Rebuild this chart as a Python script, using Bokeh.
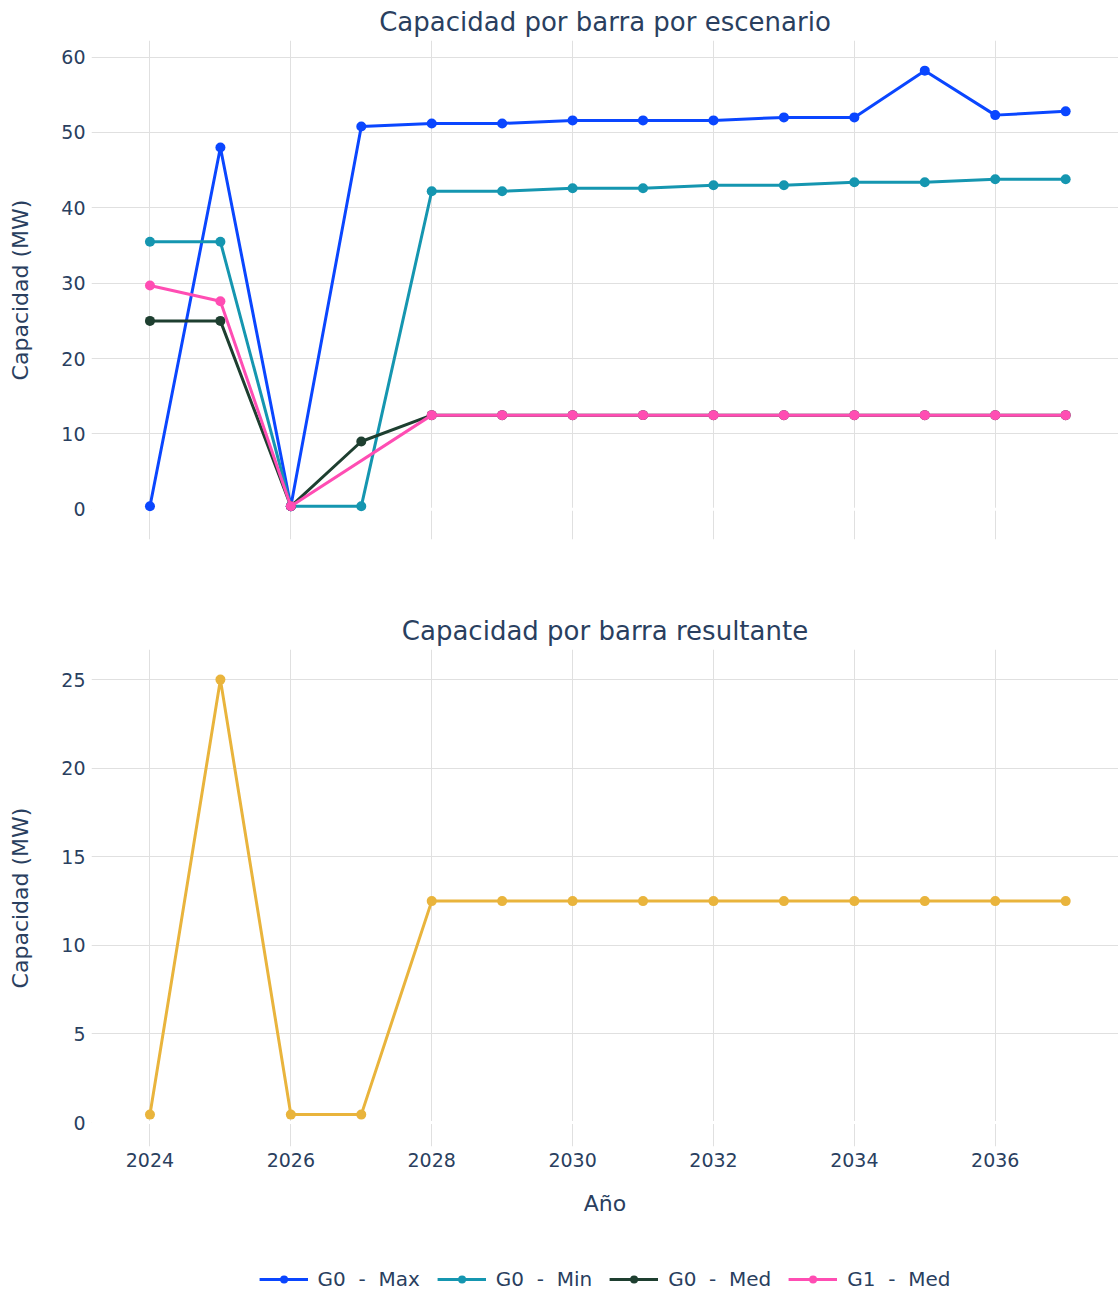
from bokeh.plotting import figure
from bokeh.layouts import column
from bokeh.models import Range1d, FixedTicker, Span, Legend, LegendItem
from bokeh.embed import file_html
from bokeh.resources import INLINE

# ---------------- data ----------------
years = [2024, 2025, 2026, 2027, 2028, 2029, 2030, 2031, 2032, 2033, 2034, 2035, 2036, 2037]
g0_max = [0.4, 48.0, 0.4, 50.8, 51.2, 51.2, 51.6, 51.6, 51.6, 52.0, 52.0, 58.2, 52.3, 52.8]
g0_min = [35.5, 35.5, 0.4, 0.4, 42.2, 42.2, 42.6, 42.6, 43.0, 43.0, 43.4, 43.4, 43.8, 43.8]
g0_med = [25.0, 25.0, 0.4, 9.0, 12.5, 12.5, 12.5, 12.5, 12.5, 12.5, 12.5, 12.5, 12.5, 12.5]
g1_med_years = [2024, 2025, 2026, 2028, 2029, 2030, 2031, 2032, 2033, 2034, 2035, 2036, 2037]
g1_med = [29.7, 27.6, 0.4, 12.5, 12.5, 12.5, 12.5, 12.5, 12.5, 12.5, 12.5, 12.5, 12.5]
resultante = [0.45, 25.0, 0.45, 0.45, 12.5, 12.5, 12.5, 12.5, 12.5, 12.5, 12.5, 12.5, 12.5, 12.5]

series_names = ["G0  -  Max", "G0  -  Min", "G0  -  Med", "G1  -  Med"]
series_colors = ["#0a46ff", "#1596b0", "#1e3f30", "#ff4db3"]
result_color = "#e9b43c"

x_ticks = [2024, 2026, 2028, 2030, 2032, 2034, 2036]
y_ticks_top = [0, 10, 20, 30, 40, 50, 60]
y_ticks_bottom = [0, 5, 10, 15, 20, 25]

title_top = "Capacidad por barra por escenario"
title_bottom = "Capacidad por barra resultante"
y_label = "Capacidad (MW)"
x_label = "Año"

FONT = "DejaVu Sans"
TXT = "#2a3f5f"
GRID = "#e0e0e0"
W = 1118
LEFT = 91

x_range = Range1d(2023.17, 2037.75)


def style(p, yticks, show_x):
    p.outline_line_color = None
    p.background_fill_color = "white"
    p.title.text_font = FONT
    p.title.text_font_size = "26px"
    p.title.text_font_style = "normal"
    p.title.text_color = TXT
    p.title.align = "center"
    p.title.standoff = 8
    p.xaxis.ticker = FixedTicker(ticks=x_ticks)
    p.yaxis.ticker = FixedTicker(ticks=yticks)
    p.xgrid.ticker = FixedTicker(ticks=x_ticks)
    for ax in (p.xaxis, p.yaxis):
        ax.axis_line_color = None
        ax.major_tick_line_color = None
        ax.minor_tick_line_color = None
        ax.major_label_text_font = FONT
        ax.major_label_text_font_size = "19px"
        ax.major_label_text_color = TXT
        ax.axis_label_text_font = FONT
        ax.axis_label_text_font_size = "22px"
        ax.axis_label_text_font_style = "normal"
        ax.axis_label_text_color = TXT
    p.yaxis.major_label_standoff = 0
    p.yaxis.axis_label = y_label
    p.yaxis.axis_label_standoff = 25
    p.xgrid.grid_line_color = GRID
    p.ygrid.grid_line_color = GRID
    p.xgrid.grid_line_width = 1
    p.ygrid.grid_line_width = 1
    zero = Span(location=0, dimension="width", line_color="white", line_width=3, level="underlay")
    p.add_layout(zero)
    if show_x:
        p.xaxis.major_label_standoff = 0
        p.xaxis.axis_label = x_label
        p.xaxis.axis_label_standoff = 21
    else:
        p.xaxis.visible = False


# ---------------- top figure ----------------
p1 = figure(width=W, height=560, x_range=x_range, y_range=Range1d(-4.0, 62.2),
            output_backend="svg", toolbar_location=None, title=title_top,
            min_border_left=LEFT, min_border_right=0, min_border_top=40, min_border_bottom=21)
style(p1, y_ticks_top, False)

top_x = [years, years, years, g1_med_years]
top_y = [g0_max, g0_min, g0_med, g1_med]
for xs, ys, c in zip(top_x, top_y, series_colors):
    p1.line(xs, ys, line_color=c, line_width=3)
    p1.scatter(xs, ys, size=10, fill_color=c, line_color=c, line_width=0)

# ---------------- bottom figure ----------------
p2 = figure(width=W, height=671, x_range=x_range, y_range=Range1d(-1.35, 26.7),
            output_backend="svg", toolbar_location=None, title=title_bottom,
            min_border_left=LEFT, min_border_right=0, min_border_top=89, min_border_bottom=85)
style(p2, y_ticks_bottom, True)

p2.line(years, resultante, line_color=result_color, line_width=3)
p2.scatter(years, resultante, size=10, fill_color=result_color, line_color=result_color, line_width=0)

# ---------------- legend strip ----------------
# same series as the top chart, mapped to a range that keeps them out of view
p3 = figure(width=W, height=64, x_range=Range1d(0, 1), y_range=Range1d(1000, 2000),
            output_backend="svg", toolbar_location=None,
            min_border_left=LEFT, min_border_right=0, min_border_top=0, min_border_bottom=4)
p3.outline_line_color = None
p3.axis.visible = False
p3.grid.visible = False

items = []
for xs, ys, name, c in zip(top_x, top_y, series_names, series_colors):
    rl = p3.line(xs, ys, line_color=c, line_width=3)
    rs = p3.scatter(xs, ys, size=10, fill_color=c, line_color=c, line_width=0)
    items.append(LegendItem(label=name, renderers=[rl, rs]))

legend = Legend(items=items, orientation="horizontal", location="bottom_center",
                label_text_font=FONT, label_text_font_size="20px", label_text_color=TXT,
                glyph_width=49, glyph_height=20, label_standoff=10, spacing=17,
                padding=4, margin=0, border_line_color=None, background_fill_alpha=0)
p3.add_layout(legend)

layout = column(p1, p2, p3, spacing=0)

open("out.html", "w").write(file_html(layout, INLINE))
